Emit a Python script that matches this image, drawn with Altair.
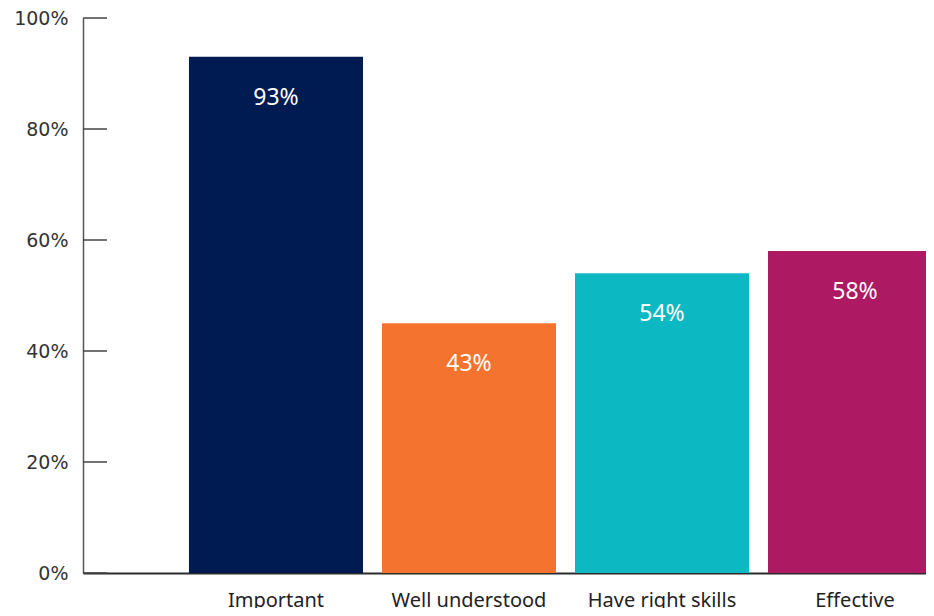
import altair as alt
import pandas as pd

categories = ["Important", "Well understood", "Have right skills", "Effective"]
values = [93, 45, 54, 58]
value_labels = ["93%", "43%", "54%", "58%"]
colors = ["#001a52", "#f4732e", "#0cb8c1", "#ad1962"]
y_ticks = [0, 20, 40, 60, 80, 100]

df = pd.DataFrame({"cat": categories, "val": values, "lab": value_labels})
ticks_df = pd.DataFrame({"t": y_ticks})

x_scale = alt.Scale(domain=categories, range=[0, 965], paddingInner=0.0984, paddingOuter=0.549)
y_scale = alt.Scale(domain=[0, 100], nice=False)

bars = alt.Chart(df).mark_bar().encode(
    x=alt.X("cat:N", scale=x_scale, sort=categories,
            axis=alt.Axis(title=None, labelAngle=0, ticks=False, domainColor="#2b2b2b",
                          domainWidth=2, labelFont="Noto Sans", labelFontSize=20,
                          labelColor="#222222", labelPadding=17)),
    y=alt.Y("val:Q", scale=y_scale,
            axis=alt.Axis(title=None, values=y_ticks, labelExpr="datum.value + '%'",
                          ticks=False, grid=False, domainColor="#555555", domainWidth=1.5,
                          labelFont="DejaVu Sans", labelFontSize=19, labelColor="#333333",
                          labelPadding=15)),
    color=alt.Color("cat:N", scale=alt.Scale(domain=categories, range=colors), legend=None),
)

text = alt.Chart(df).mark_text(color="white", font="Noto Sans", fontSize=23,
                                baseline="middle", dy=41).encode(
    x=alt.X("cat:N", scale=x_scale, sort=categories),
    y=alt.Y("val:Q", scale=y_scale),
    text="lab:N",
)

tick_marks = alt.Chart(ticks_df).mark_rule(color="#444444", strokeWidth=1.5).encode(
    x=alt.value(0), x2=alt.value(24), y=alt.Y("t:Q", scale=y_scale),
)

chart = alt.layer(bars, text, tick_marks).properties(
    width=843, height=555,
    autosize=alt.AutoSizeParams(type="none"),
    padding={"left": 75, "top": 10, "right": 0, "bottom": 35},
).configure_view(stroke=None)

chart.save("out.html", embed_options={"renderer": "svg", "actions": False})
